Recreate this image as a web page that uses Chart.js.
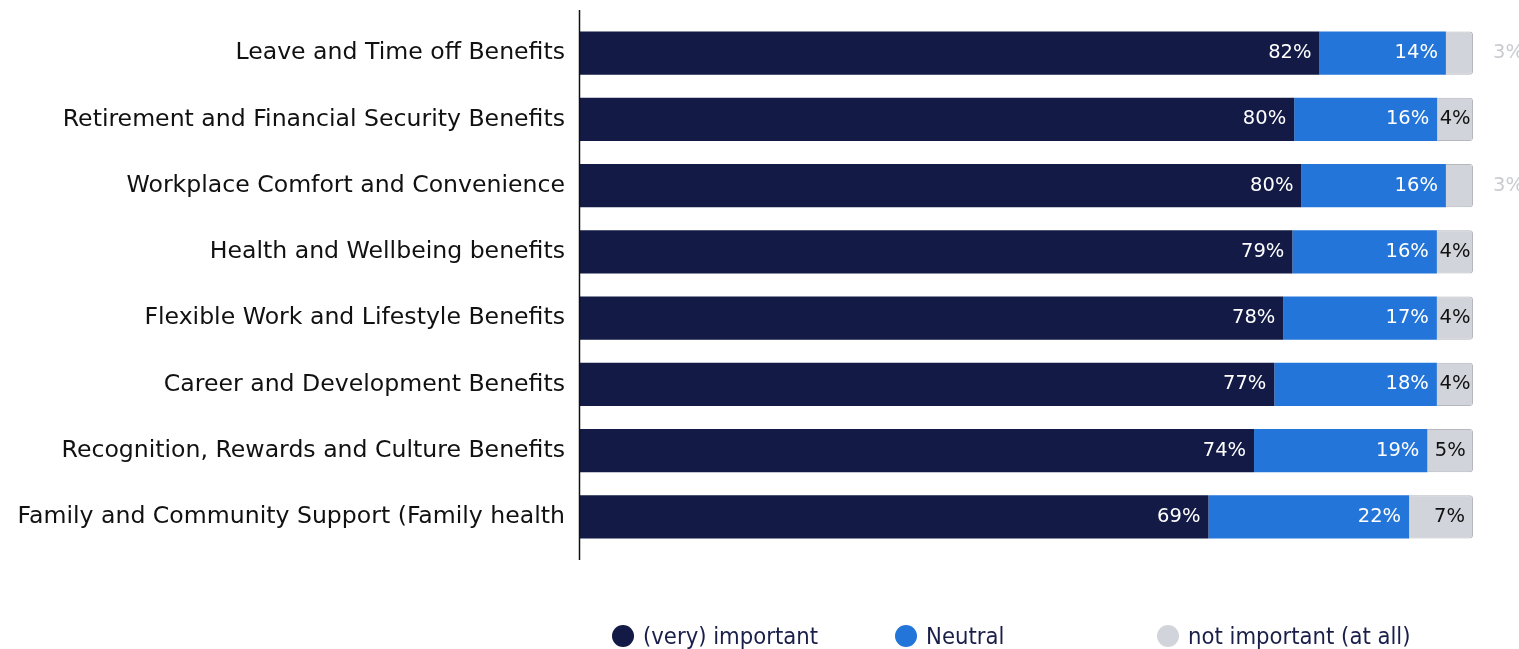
<!DOCTYPE html>
<html>
<head>
<meta charset="utf-8">
<script src="https://cdn.jsdelivr.net/npm/chart.js@4"></script>
<style>
  html, body { margin: 0; padding: 0; background: #fff; }
  #wrap { position: relative; width: 1519px; height: 649px; }
  #legend { position: absolute; top: 622px; left: 0; width: 1519px; height: 30px;
    font-family: "DejaVu Sans Condensed", "DejaVu Sans", sans-serif; font-stretch: condensed;
    font-size: 23.6px; color: #1a1f4a; }
  .item { position: absolute; top: 0; display: flex; align-items: center; white-space: nowrap; }
  .dot { width: 22px; height: 22px; border-radius: 50%; margin-right: 9px; }
</style>
</head>
<body>
<div id="wrap">
  <canvas id="chart" width="1519" height="649"></canvas>
  <div id="legend"></div>
</div>
<script>
const categories = [
  'Leave and Time off Benefits',
  'Retirement and Financial Security Benefits',
  'Workplace Comfort and Convenience',
  'Health and Wellbeing benefits',
  'Flexible Work and Lifestyle Benefits',
  'Career and Development Benefits',
  'Recognition, Rewards and Culture Benefits',
  'Family and Community Support (Family health'
];
const important    = [82, 80, 80, 79, 78, 77, 74, 69];
const neutral      = [14, 16, 16, 16, 17, 18, 19, 22];
const notImportant = [3, 4, 3, 4, 4, 4, 5, 7];

const seriesNames = ['(very) important', 'Neutral', 'not important (at all)'];
const colors = ['#121a45', '#2375d9', '#d1d4da'];
const labelColors = ['#ffffff', '#ffffff', '#111111'];

const raw = [important, neutral, notImportant];
const totals = categories.map((_, i) => important[i] + neutral[i] + notImportant[i]);
// each row is stretched to the full width (shares of the row total)
const share = arr => arr.map((v, i) => v / totals[i] * 100);

const FONT = '"DejaVu Sans", Verdana, sans-serif';

// value labels: right aligned inside each segment, outside in light grey when too narrow
const valueLabels = {
  id: 'valueLabels',
  afterDatasetsDraw(chart) {
    const ctx = chart.ctx;
    ctx.save();
    ctx.font = '19.5px ' + FONT;
    ctx.textBaseline = 'middle';
    chart.data.datasets.forEach((ds, di) => {
      const meta = chart.getDatasetMeta(di);
      meta.data.forEach((bar, i) => {
        const text = raw[di][i] + '%';
        const tw = ctx.measureText(text).width;
        const left = bar.base, right = bar.x;
        const w = right - left;
        if (tw + 2 <= w) {
          const pad = Math.min(8, (w - tw) / 2);
          ctx.fillStyle = labelColors[di];
          ctx.textAlign = 'right';
          ctx.fillText(text, right - pad, bar.y);
        } else {
          ctx.fillStyle = '#c9cbd0';
          ctx.textAlign = 'left';
          ctx.fillText(text, chart.chartArea.right + 20, bar.y);
        }
      });
    });
    ctx.restore();
  }
};

// vertical axis line, a little taller than the plot area
const axisLine = {
  id: 'axisLine',
  afterDraw(chart) {
    const ctx = chart.ctx;
    const x = Math.round(chart.chartArea.left) + 0.5;
    ctx.save();
    ctx.strokeStyle = '#111';
    ctx.lineWidth = 1.5;
    ctx.beginPath();
    ctx.moveTo(x, chart.chartArea.top - 10);
    ctx.lineTo(x, chart.chartArea.bottom + 10);
    ctx.stroke();
    ctx.restore();
  }
};

new Chart(document.getElementById('chart'), {
  type: 'bar',
  data: {
    labels: categories,
    datasets: raw.map((arr, di) => ({
      label: seriesNames[di],
      data: share(arr),
      backgroundColor: colors[di],
      borderColor: di === 2 ? '#b4b7bd' : colors[di],
      borderWidth: di === 2 ? 1 : 0,
      borderSkipped: 'start',
      borderRadius: di === 2 ? { topRight: 3, bottomRight: 3 } : 0,
      categoryPercentage: 1,
      barPercentage: 0.65
    }))
  },
  options: {
    indexAxis: 'y',
    responsive: false,
    animation: false,
    layout: { padding: { top: 20, right: 46, bottom: 99, left: 0 } },
    plugins: {
      legend: { display: false },
      tooltip: { enabled: false }
    },
    scales: {
      x: { stacked: true, min: 0, max: 100, display: false },
      y: {
        stacked: true,
        grid: { display: false, drawTicks: false },
        border: { display: false },
        ticks: { color: '#111', font: { family: FONT, size: 23.6 }, padding: 14, autoSkip: false },
        afterFit(scale) {
          scale.width = 579;
          scale.paddingTop = 0;
          scale.paddingBottom = 0;
        }
      }
    }
  },
  plugins: [valueLabels, axisLine]
});

// legend in fixed columns under the bars
const legendX = [612, 895, 1157];
const legend = document.getElementById('legend');
seriesNames.forEach((name, i) => {
  const item = document.createElement('div');
  item.className = 'item';
  item.style.left = legendX[i] + 'px';
  item.innerHTML = '<span class="dot" style="background:' + colors[i] + '"></span><span>' + name + '</span>';
  legend.appendChild(item);
});
</script>
</body>
</html>
